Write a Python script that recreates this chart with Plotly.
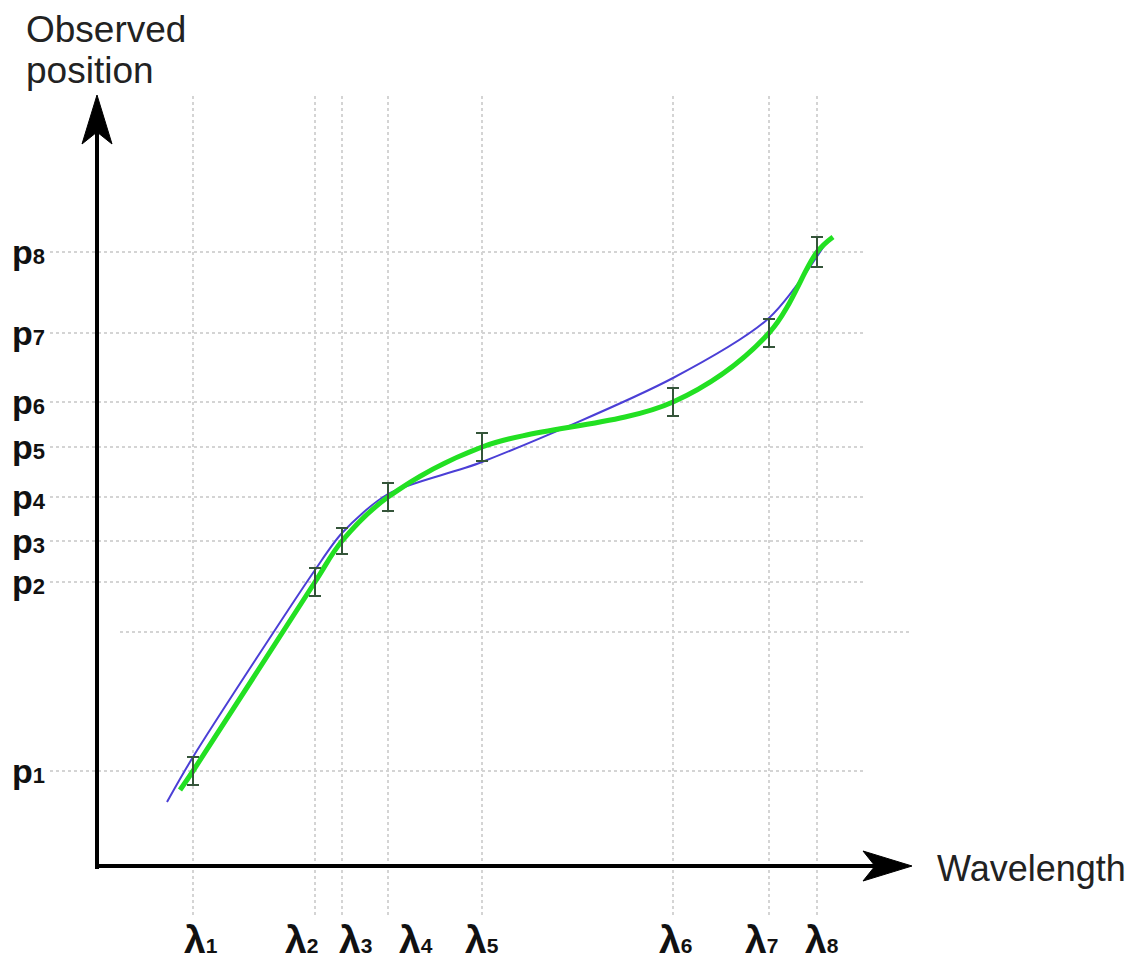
import plotly.graph_objects as go

# Wavelength positions of the calibration lines (arbitrary units)
lam_labels = ["1", "2", "3", "4", "5", "6", "7", "8"]
lam = [96, 218, 245, 291, 385, 576, 672, 720]

# Observed positions of the lines on the detector (arbitrary units)
p_labels = ["1", "2", "3", "4", "5", "6", "7", "8"]
pos = [95, 284, 325, 369, 419, 464, 533, 614]
pos_err = [14, 14, 13, 14, 14, 14, 14, 15]

# Smooth model (blue) evaluated at the line wavelengths, with its end points
model_x = [70, 96, 218, 245, 291, 385, 576, 672, 729]
model_y = [64, 109, 296, 333, 372, 404, 488, 548, 623]

# Interpolating curve (green) through the observed positions
interp_x = [83] + lam + [736]
interp_y = [76] + pos + [629]

# Extra unlabelled reference level
extra_level = 234

# Horizontal nudges of the wavelength labels so neighbours don't collide
lam_label_shift = [-11, -32, -5, 9, -19, -16, -26, -14]

AXIS = "#000000"
GRID = "#d4d4d4"
FONT = "Liberation Sans, Arial, Helvetica, sans-serif"

fig = go.Figure()

fig.add_trace(go.Scatter(
    x=model_x, y=model_y, mode="lines",
    line=dict(color="#4b3fd6", width=2, shape="spline", smoothing=0.8),
    hoverinfo="skip", showlegend=False))

fig.add_trace(go.Scatter(
    x=interp_x, y=interp_y, mode="lines",
    line=dict(color="#22e022", width=5, shape="spline", smoothing=1.0),
    hoverinfo="skip", showlegend=False))

fig.add_trace(go.Scatter(
    x=lam, y=pos, mode="markers",
    marker=dict(size=1, color="rgba(0,0,0,0)"),
    error_y=dict(type="data", array=pos_err, color="#35553a", thickness=2, width=6),
    hoverinfo="skip", showlegend=False))

shapes = []
# dotted grid: vertical at each wavelength, horizontal at each position
for xv in lam:
    shapes.append(dict(type="line", x0=xv, x1=xv, y0=-49, y1=771, layer="below",
                       line=dict(color=GRID, width=2, dash="dot")))
for yv in pos:
    shapes.append(dict(type="line", x0=-47, x1=768, y0=yv, y1=yv, layer="below",
                       line=dict(color=GRID, width=2, dash="dot")))
shapes.append(dict(type="line", x0=23, x1=813, y0=extra_level, y1=extra_level, layer="below",
                   line=dict(color=GRID, width=2, dash="dot")))

# axes with arrow heads
shapes.append(dict(type="line", x0=0, x1=0, y0=-3, y1=735, line=dict(color=AXIS, width=4)))
shapes.append(dict(type="line", x0=-2, x1=780, y0=0, y1=0, line=dict(color=AXIS, width=4)))
shapes.append(dict(type="path", path="M 0 771 L -15 722 L 0 734 L 15 722 Z",
                   fillcolor=AXIS, line=dict(color=AXIS, width=1)))
shapes.append(dict(type="path", path="M 815 0 L 766 15 L 778 0 L 766 -15 Z",
                   fillcolor=AXIS, line=dict(color=AXIS, width=1)))

annotations = []
for lbl, yv in zip(p_labels, pos):
    annotations.append(dict(
        x=-87, y=yv, xref="x", yref="y", xanchor="left", yanchor="middle",
        text=f"<b>p</b><span style='font-size:22px'><b>{lbl}</b></span>",
        showarrow=False, font=dict(family=FONT, size=34, color="#111111")))
for lbl, xv, dx in zip(lam_labels, lam, lam_label_shift):
    annotations.append(dict(
        x=xv + dx, y=-73, xref="x", yref="y", xanchor="left", yanchor="middle",
        text=f"<b>λ</b><span style='font-size:21px'><b>{lbl}</b></span>",
        showarrow=False, font=dict(family=FONT, size=39, color="#111111")))

annotations.append(dict(
    x=-73, y=837, xref="x", yref="y", xanchor="left", yanchor="middle",
    text="Observed", showarrow=False,
    font=dict(family=FONT, size=37, color="#222222")))
annotations.append(dict(
    x=-73, y=796, xref="x", yref="y", xanchor="left", yanchor="middle",
    text="position", showarrow=False,
    font=dict(family=FONT, size=37, color="#222222")))
annotations.append(dict(
    x=838, y=-2, xref="x", yref="y", xanchor="left", yanchor="middle",
    text="Wavelength", showarrow=False,
    font=dict(family=FONT, size=36, color="#222222")))

fig.update_layout(
    width=1140, height=977,
    margin=dict(l=0, r=0, t=0, b=0),
    paper_bgcolor="white", plot_bgcolor="white",
    xaxis=dict(range=[-97, 1043], visible=False, fixedrange=True),
    yaxis=dict(range=[-111, 866], visible=False, fixedrange=True),
    shapes=shapes, annotations=annotations, showlegend=False)

fig.write_html("out.html")
